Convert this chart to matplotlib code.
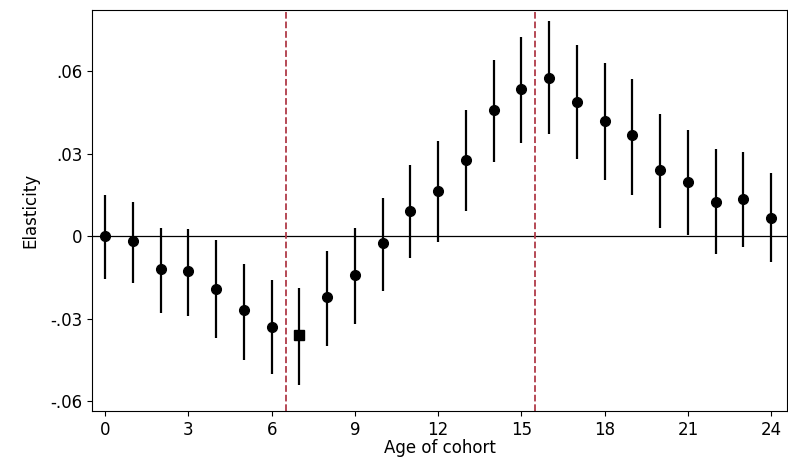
import numpy as np
import matplotlib
matplotlib.use("Agg")
import matplotlib.pyplot as plt

ages = list(range(25))
est = [0.0, -0.0018, -0.012, -0.0127, -0.0193, -0.0269, -0.0331, -0.036, -0.0222, -0.0142,
       -0.0025, 0.0091, 0.0164, 0.0276, 0.0458, 0.0535, 0.0575, 0.0487, 0.0418, 0.0367,
       0.024, 0.0196, 0.0124, 0.0135, 0.0065]
lo = [-0.0155, -0.017, -0.028, -0.029, -0.037, -0.045, -0.050, -0.054, -0.040, -0.032,
      -0.020, -0.008, -0.002, 0.009, 0.027, 0.034, 0.037, 0.028, 0.0205, 0.015,
      0.003, 0.0005, -0.0065, -0.004, -0.0095]
hi = [0.0148, 0.0125, 0.003, 0.0025, -0.0015, -0.010, -0.016, -0.019, -0.0055, 0.003,
      0.014, 0.026, 0.0345, 0.046, 0.064, 0.0725, 0.078, 0.0695, 0.063, 0.057,
      0.0445, 0.0385, 0.0315, 0.0305, 0.023]
ref_age = 7
cutoffs = [6.5, 15.5]

fig = plt.figure(figsize=(7.88, 4.73), dpi=100)
ax = fig.add_axes([0.117, 0.131, 0.882, 0.848])

ax.axhline(0, color="black", lw=0.9, zorder=1)
for c in cutoffs:
    ax.axvline(c, color="#b03a48", ls="--", lw=1.3, zorder=1)
ax.vlines(ages, lo, hi, color="black", lw=1.6, zorder=2)
for a, e in zip(ages, est):
    ax.plot(a, e, marker="s" if a == ref_age else "o", color="black",
            ms=7, ls="none", zorder=3)

ax.set_xlim(-0.47, 24.58)
ax.set_ylim(-0.0636, 0.0822)
ax.set_xticks(range(0, 25, 3))
ax.set_yticks([-0.06, -0.03, 0, 0.03, 0.06])
ax.set_yticklabels(["-.06", "-.03", "0", ".03", ".06"])
ax.tick_params(labelsize=12)
ax.set_xlabel("Age of cohort", fontsize=12, labelpad=0)
ax.set_ylabel("Elasticity", fontsize=12, labelpad=8)

fig.savefig("out.png", dpi=100)
